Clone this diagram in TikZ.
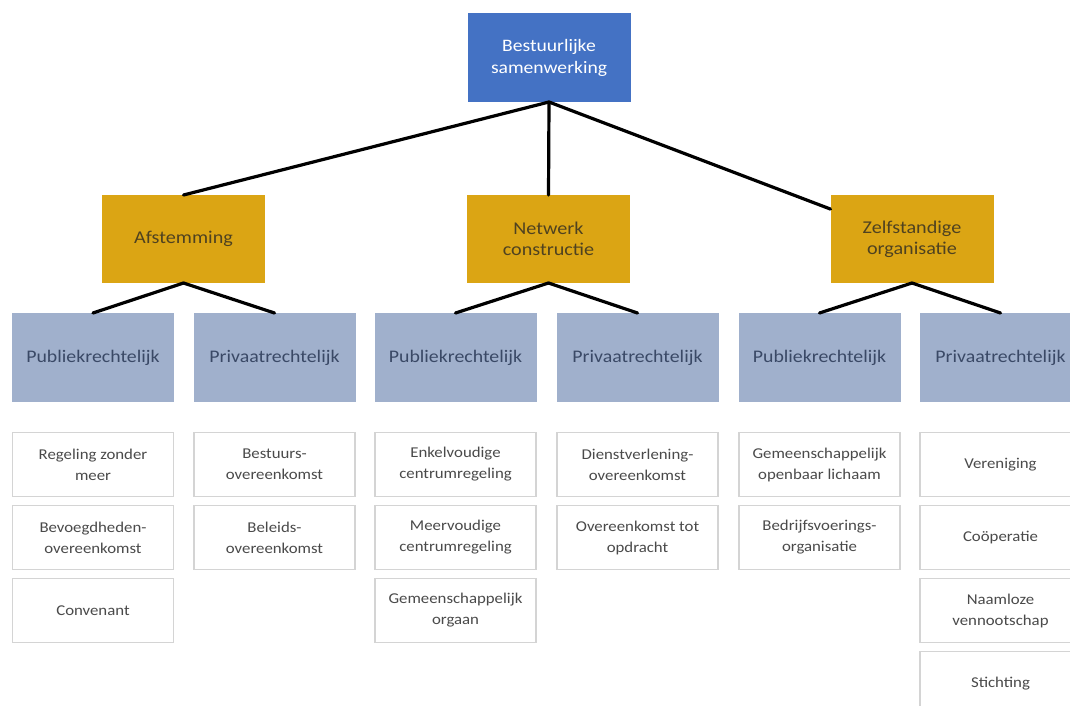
\documentclass[tikz,border=0pt]{standalone}
\usepackage{fontspec}
\setmainfont{Carlito}[FakeStretch=1.12]
\usetikzlibrary{calc}
\definecolor{topblue}{HTML}{4472C4}
\definecolor{gold}{HTML}{DBA514}
\definecolor{slate}{HTML}{A0B0CC}
\definecolor{slatetext}{HTML}{3A4966}
\definecolor{goldtext}{HTML}{4F4220}
\definecolor{leaftext}{HTML}{4A4A4A}
\definecolor{leafborder}{HTML}{D4D4D4}
\tikzset{
  box/.style={rectangle, inner sep=0pt, outer sep=0pt, align=center,
    minimum width=163pt},
  topbox/.style={box, fill=topblue, text=white, minimum height=89pt,
    font=\fontsize{17.5}{22}\selectfont},
  midbox/.style={box, fill=gold, text=goldtext, minimum height=88pt,
    font=\fontsize{18}{21}\selectfont},
  catbox/.style={box, fill=slate, text=slatetext, minimum width=162pt, minimum height=89pt,
    font=\fontsize{17.7}{21}\selectfont},
  leafbox/.style={box, fill=white, draw=leafborder, line width=1.2pt, text=leaftext,
    minimum width=161pt, minimum height=64pt,
    font=\fontsize{15}{21}\selectfont},
  conn/.style={draw=black, line width=3.2pt, line cap=round}
}
\begin{document}
\begin{tikzpicture}[x=1pt, y=-1pt]
\useasboundingbox (0,0) rectangle (1070,706);
\fill[white] (0,0) rectangle (1070,706);
\clip (0,0) rectangle (1070,706);

% top
\node[topbox] (t) at (549,57.5) {Bestuurlijke\\samenwerking};

% level 2
\node[midbox] (a) at (183.5,239) {Afstemming};
\node[midbox] (n) at (548.5,239) {Netwerk\\constructie};
\node[midbox] (z) at (912,239) {Zelfstandige\\organisatie};

% level 3
\node[catbox] (p1) at (93,357.5) {Publiekrechtelijk};
\node[catbox] (q1) at (274.5,357.5) {Privaatrechtelijk};
\node[catbox] (p2) at (455.5,357.5) {Publiekrechtelijk};
\node[catbox] (q2) at (637.5,357.5) {Privaatrechtelijk};
\node[catbox] (p3) at (819.5,357.5) {Publiekrechtelijk};
\node[catbox] (q3) at (1000.5,357.5) {Privaatrechtelijk};

% leaves column 1
\node[leafbox] (l11) at (93,464.5) {Regeling zonder\\meer};
\node[leafbox] (l12) at (93,537.5) {Bevoegdheden-\\overeenkomst};
\node[leafbox] (l13) at (93,610.5) {Convenant};
% column 2
\node[leafbox] (l21) at (274.5,464.5) {Bestuurs-\\overeenkomst};
\node[leafbox] (l22) at (274.5,537.5) {Beleids-\\overeenkomst};
% column 3
\node[leafbox] (l31) at (455.5,464.5) {Enkelvoudige\\centrumregeling};
\node[leafbox] (l32) at (455.5,537.5) {Meervoudige\\centrumregeling};
\node[leafbox] (l33) at (455.5,610.5) {Gemeenschappelijk\\orgaan};
% column 4
\node[leafbox] (l41) at (637.5,464.5) {Dienstverlening-\\overeenkomst};
\node[leafbox] (l42) at (637.5,537.5) {Overeenkomst tot\\opdracht};
% column 5
\node[leafbox] (l51) at (819.5,464.5) {Gemeenschappelijk\\openbaar lichaam};
\node[leafbox] (l52) at (819.5,537.5) {Bedrijfsvoerings-\\organisatie};
% column 6
\node[leafbox] (l61) at (1000.5,464.5) {Vereniging};
\node[leafbox] (l62) at (1000.5,537.5) {Coöperatie};
\node[leafbox] (l63) at (1000.5,610.5) {Naamloze\\vennootschap};
\node[leafbox] (l64) at (1000.5,683.5) {Stichting};

% connectors
\coordinate (zin) at ($(z.north west)!0.16!(z.south west)$);
\draw[conn] (t.south) -- (a.north);
\draw[conn] (t.south) -- (n.north);
\draw[conn] (t.south) -- (zin);
\draw[conn] (a.south) -- (p1.north);
\draw[conn] (a.south) -- (q1.north);
\draw[conn] (n.south) -- (p2.north);
\draw[conn] (n.south) -- (q2.north);
\draw[conn] (z.south) -- (p3.north);
\draw[conn] (z.south) -- (q3.north);
\end{tikzpicture}
\end{document}
